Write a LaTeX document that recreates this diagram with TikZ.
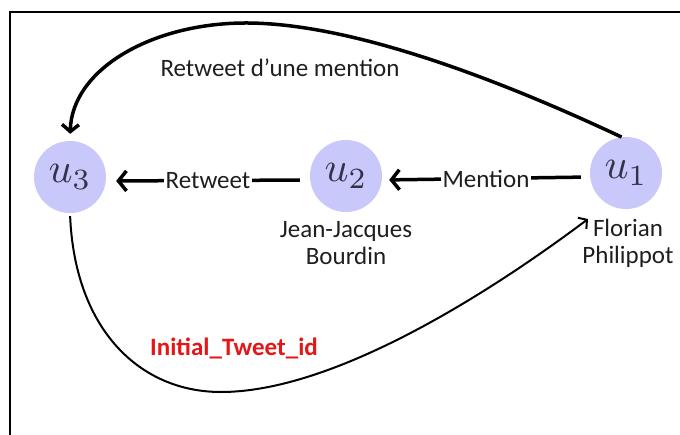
\documentclass[tikz,border=0pt]{standalone}
\usepackage{graphicx}
\usepackage{fontspec}
\setmainfont{Carlito}
\usetikzlibrary{arrows.meta}
\definecolor{nodefill}{RGB}{200,200,250}
\definecolor{idred}{RGB}{228,22,22}
\definecolor{utext}{RGB}{50,50,75}
\definecolor{txt}{RGB}{30,30,30}
\newcommand{\ulabel}[1]{\scalebox{4.2}{$u_{#1}$}}
\begin{document}
\begin{tikzpicture}[x=1pt,y=-1pt,
  user/.style={circle,fill=nodefill,minimum size=72pt,inner sep=0pt,text=utext},
  lbl/.style={font=\fontsize{25}{27}\selectfont,align=center,text=txt},
  edgelbl/.style={lbl,fill=white,inner sep=1.5pt},
  mainarrow/.style={line width=3.5pt,-{Straight Barb[length=8pt,width=20pt]}},
  toparrow/.style={line width=3.5pt,-{Straight Barb[length=7pt,width=17pt]}},
  botarrow/.style={line width=2pt,-{Straight Barb[length=6pt,width=14pt]}},
  frameline/.style={line width=2.5pt}
  ]
\useasboundingbox (0,0) rectangle (680,434);
\draw[frameline] (10,440) -- (10,12) -- (690,12);

\node[user] (u3) at (70,177) {\ulabel{3}};
\node[user] (u2) at (346,176) {\ulabel{2}};
\node[user] (u1) at (626,173) {\ulabel{1}};

\node[lbl] (jjb) at (346,243) {Jean-Jacques\\Bourdin};
\node[lbl] (fp) at (628,243) {Florian\\Philippot};
\coordinate (fptip) at (588,219);

\draw[mainarrow, shorten <=9pt, shorten >=7pt] ([yshift=-4pt]u1.west) -- node[edgelbl] (lm) {Mention} ([yshift=-4pt]u2.east);
\draw[mainarrow, shorten <=10pt, shorten >=10pt] ([yshift=-4pt]u2.west) -- node[edgelbl] (lr) {Retweet} ([yshift=-4pt]u3.east);

\draw[toparrow, shorten >=7pt] (u1.97) .. controls (500,80) and (350,22) .. (243,23)
   .. controls (150,24) and (72,70) .. (u3.north);
\node[lbl] (lrm) at (280,68) {Retweet d’une mention};

\draw[botarrow, shorten <=3pt] (u3.south) .. controls (75,330) and (140,392) .. (221,392)
   .. controls (330,392) and (480,300) .. (fptip);
\node[lbl, text=idred, font=\bfseries\fontsize{25}{27}\selectfont] (tid) at (234,348) {Initial\_Tweet\_id};
\end{tikzpicture}
\end{document}
